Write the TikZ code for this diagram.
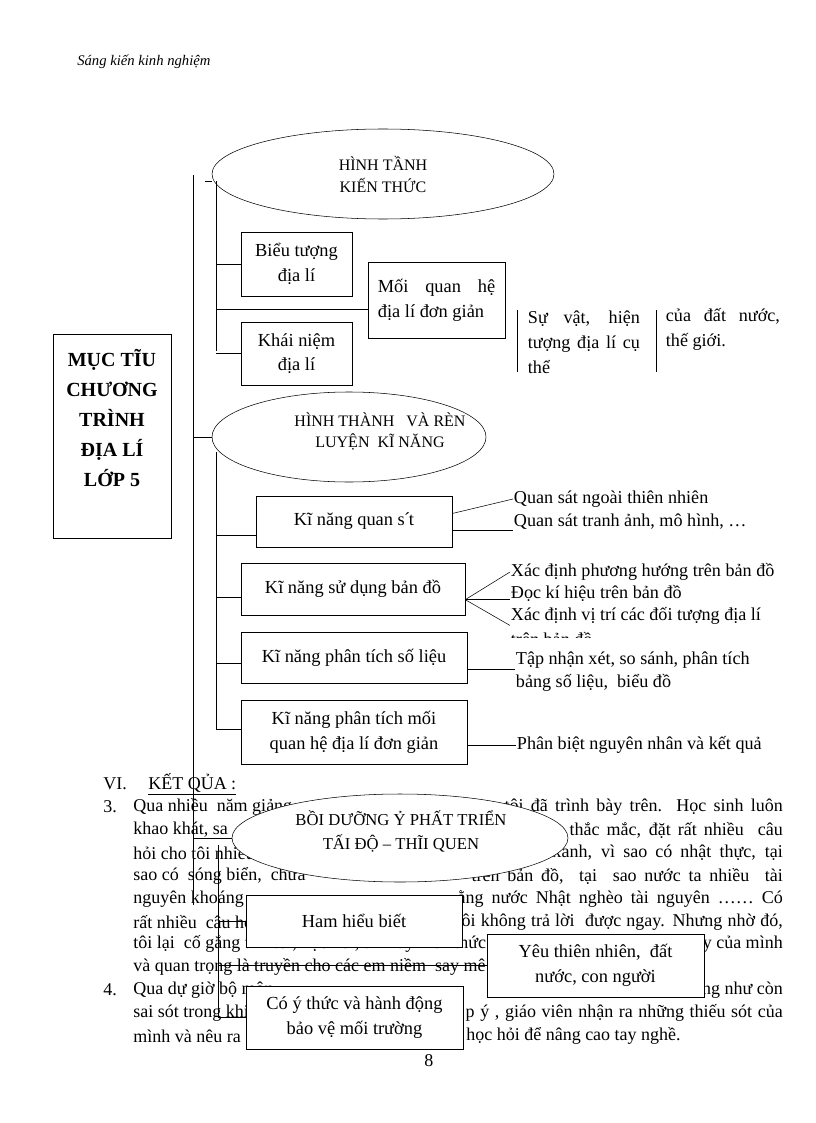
\documentclass[tikz,border=0pt]{standalone}
\usepackage{fontspec}
\setmainfont{Liberation Serif}
\usetikzlibrary{shapes.geometric,positioning}

\tikzset{
  bodytext/.style={anchor=west, inner sep=0pt, font=\fontsize{13.5}{16}\selectfont},
  bodyright/.style={bodytext, anchor=east},
  sidetext/.style={anchor=west, inner sep=0.5pt, font=\fontsize{13.6}{16}\selectfont},
  goalbox/.style={draw, fill=white, minimum width=88.5pt, minimum height=153pt},
  ideabox/.style={draw, fill=white, align=center, inner sep=2pt,
    font=\fontsize{13.8}{18.5}\selectfont},
  bubble/.style={draw, ellipse, fill=white, align=center, inner sep=0pt,
    font=\fontsize{12}{16.5}\selectfont},
}

\begin{document}
\begin{tikzpicture}[x=0.75pt,y=-0.75pt]
  \useasboundingbox (0,0) rectangle (816,1123);
  \node[anchor=west, inner sep=0pt, font=\fontsize{11}{13}\selectfont\itshape] (header) at (77,62) {Sáng kiến kinh nghiệm};

  % text of the page, under the diagram
  \node[bodytext] (vi) at (103,784) {VI.};
  \node[bodytext] (ketqua) at (148,784) {\underline{KẾT QỦA :}};
  \node[bodytext] (num3) at (103,807) {3.};
  \node[bodytext] (lineAa) at (133,807) {Qua nhiều\ \ năm giảng};
  \node[bodyright] (lineAb) at (783,807) {\makebox[208.5pt][s]{tôi đã trình bày trên. Học sinh luôn}};
  \node[bodytext] (lineBa) at (133,830) {khao khát, sa};
  \node[bodyright] (lineBb) at (783,830) {\makebox[159.75pt][s]{thắc mắc, đặt rất nhiều\ \ câu}};
  \node[bodytext] (lineCa) at (133,853) {hỏi cho tôi nhiều};
  \node[bodyright] (lineCb) at (783,853) {\makebox[172.5pt][s]{xanh, vì sao có nhật thực, tại}};
  \node[bodytext] (lineDa) at (133,876) {sao có\ \ sóng biển,\ \ chưa};
  \node[bodyright] (lineDb) at (783,876) {\makebox[233.25pt][s]{trên bản đồ,\ \ tại\ \ sao nước ta nhiều\ \ tài}};
  \node[bodytext] (lineEa) at (133,899) {nguyên khoáng};
  \node[bodyright] (lineEb) at (783,899) {\makebox[243.75pt][s]{ằng nước Nhật nghèo tài nguyên …… Có}};
  \node[bodytext] (lineFa) at (133,922) {rất nhiều\ \ câu hỏi};
  \node[bodyright] (lineFb) at (783,922) {\makebox[240.75pt][s]{ôi không trả lời\ \ được ngay. Nhưng nhờ đó,}};
  \node[bodytext] (lineGa) at (133,944) {tôi lại\ \ cố gắng tìm tòi, học hỏi, tìm lấy kiến thức};
  \node[bodyright] (lineGb) at (783,944) {y của mình};
  \node[bodytext] (lineHa) at (133,967) {và quan trọng là truyền cho các em niềm\ \ say mê};
  \node[bodytext] (num4) at (103,990) {4.};
  \node[bodytext] (lineIa) at (133,990) {Qua dự giờ bộ môn};
  \node[bodyright] (lineIb) at (783,990) {cũng như còn};
  \node[bodytext] (lineJa) at (133,1013) {sai sót trong khi};
  \node[bodyright] (lineJb) at (783,1013) {\makebox[237.75pt][s]{p ý , giáo viên nhận ra những thiếu sót của}};
  \node[bodytext] (lineKa) at (133,1036) {mình và nêu ra};
  \node[bodytext] (lineKb) at (466,1036) {học hỏi để nâng cao tay nghề.};
  \node[bodytext] (pageno) at (424,1061) {8};

  % main box and trunk
  \node[goalbox] (goal) at (112,436) {};
  \node[align=center, inner sep=0pt, font=\fontsize{15}{22.5}\selectfont\bfseries] (goalTxt) at (112,418) {MỤC TĨU\\CHƯƠNG\\TRÌNH\\ĐỊA LÍ\\LỚP 5};
  \coordinate (mainTop) at (193,175);
  \coordinate (mainBot) at (193,905);
  \draw (mainTop) -- (mainBot);

  % knowledge
  \node[bubble, minimum width=256.5pt, minimum height=67.5pt] (ellKnow) at (383,174) {HÌNH TẦNH\\KIẾN THỨC};
  \node[ideabox, minimum width=83.25pt, minimum height=48pt] (repBox) at (296.5,264) {Biểu tượng\\địa lí};
  \node[ideabox, align=left, minimum width=102.75pt, minimum height=57pt] (relBox) at (436.5,300) {\makebox[88pt][s]{Mối quan hệ}\\địa lí đơn giản};
  \node[ideabox, minimum width=83.25pt, minimum height=47.25pt] (conBox) at (296.5,353.5) {Khái niệm\\địa lí};
  \coordinate (kTick) at (205,181);
  \coordinate (kTop) at (216,181);
  \coordinate (kBot) at (216,351);
  \coordinate (relIn) at ([yshift=-6.75pt]relBox.west);
  \draw (kTick) -- (kTick -| ellKnow.west);
  \draw (kTop) -- (kBot);
  \draw (repBox.west -| kTop) -- (repBox.west);
  \draw (relIn -| kTop) -- (relIn);
  \draw (conBox.west -| kTop) -- (conBox.west);
  \node[sidetext, align=left, font=\fontsize{13.6}{18.75}\selectfont] (thingTxt) at (527,342) {\makebox[84pt][s]{Sự vật, hiện}\\\makebox[84pt][s]{tượng địa lí cụ}\\thể};
  \node[sidetext, align=left, font=\fontsize{13.6}{18.75}\selectfont] (worldTxt) at (665,329.5) {\makebox[85.5pt][s]{của đất nước,}\\thế giới.};
  \draw (517,310) -- (517,372);
  \draw (656,310) -- (656,372);

  % skills
  \node[bubble, minimum width=205.5pt, minimum height=67.5pt] (ellSkill) at (349,437) {};
  \node[align=center, inner sep=0pt, font=\fontsize{12}{15.75}\selectfont] (ellSkillTxt) at (380,431) {HÌNH THÀNH\ \ \ VÀ RÈN\\LUYỆN\ \ KĨ NĂNG};
  \node[ideabox, minimum width=147pt, minimum height=38.25pt] (obsBox) at (354,521.5) {Kĩ năng quan s\kern-0.5pt´\kern-1pt t};
  \node[ideabox, minimum width=168pt, minimum height=39pt] (mapBox) at (353,589) {Kĩ năng sử dụng bản đồ};
  \node[ideabox, minimum width=169.5pt, minimum height=38.25pt] (numBox) at (354,657.5) {Kĩ năng phân tích số liệu};
  \node[ideabox, minimum width=169.5pt, minimum height=48pt] (linkBox) at (354,732) {Kĩ năng phân tích mối\\quan hệ địa lí đơn giản};
  \coordinate (sTop) at (216,452);
  \coordinate (sBot) at (216,729);
  \draw (ellSkill.west -| mainTop) -- (ellSkill.west);
  \draw (sTop) -- (sBot);
  \draw ([yshift=-10pt]obsBox.west -| sTop) -- ([yshift=-10pt]obsBox.west);
  \draw ([yshift=-6pt]mapBox.west -| sTop) -- ([yshift=-6pt]mapBox.west);
  \draw ([yshift=-4pt]numBox.west -| sTop) -- ([yshift=-4pt]numBox.west);
  \draw ([yshift=2pt]linkBox.west -| sTop) -- ([yshift=2pt]linkBox.west);

  \node[sidetext] (obsA) at (513,499) {Quan sát ngoài thiên nhiên};
  \node[sidetext] (obsB) at (513,522) {Quan sát tranh ảnh, mô hình, …};
  \draw ([yshift=6pt]obsBox.east) -- (obsA.west);
  \draw (obsBox.east |- obsB.south west) -- (obsB.south west);

  \node[sidetext] (mapA) at (510,572) {Xác định phương hướng trên bản đồ};
  \node[sidetext] (mapB) at (510,593) {Đọc kí hiệu trên bản đồ};
  \node[sidetext] (mapC) at (510,616) {Xác định vị trí các đối tượng địa lí};
  \begin{scope}
    \clip (500,626) rectangle (800,637);
    \node[sidetext] (mapD) at (510,639) {trên bản đồ};
  \end{scope}
  \coordinate (mapOut) at ([yshift=-8pt]mapBox.east);
  \draw (mapOut) -- (mapA.west);
  \draw (mapOut) -- (mapOut -| mapB.west);
  \draw (mapOut) -- (mapC.south west);

  \node[sidetext] (numA) at (515,660) {Tập nhận xét, so sánh, phân tích};
  \node[sidetext] (numB) at (515,683) {bảng số liệu,\ \ biểu đồ};
  \draw (numBox.east |- numA.south west) -- (numA.south west);
  \node[sidetext] (linkA) at (516,745) {Phân biệt nguyên nhân và kết quả};
  \draw (linkBox.east |- linkA.west) -- (linkA.west);

  % attitudes
  \node[bubble, minimum width=252pt, minimum height=66pt] (ellCare) at (400,838) {};
  \node[align=center, inner sep=0pt, font=\fontsize{12.5}{18}\selectfont] (ellCareTxt) at (401,831) {BỒI DƯỠNG Ỷ PHẤT TRIỂN\\TẤI ĐỘ – THĨI QUEN};
  \node[ideabox, minimum width=162pt, minimum height=39pt] (hamBox) at (354,921) {Ham hiểu biết};
  \node[ideabox, minimum width=162.75pt, minimum height=47.25pt] (loveBox) at (595.5,965.5) {Yêu thiên nhiên,\ \ đất\\nước, con người};
  \node[ideabox, minimum width=162.75pt, minimum height=47.25pt] (actBox) at (354.5,1017.5) {Có ý thức và hành động\\bảo vệ mối trường};
  \coordinate (cTop) at (218,845);
  \coordinate (cBot) at (218,1017.5);
  \draw (ellCare.west -| mainTop) -- (ellCare.west);
  \draw (cTop) -- (cBot);
  \draw (hamBox.west -| cTop) -- (hamBox.west);
  \draw (loveBox.west -| cTop) -- (loveBox.west);
  \draw (actBox.west -| cTop) -- (actBox.west);
\end{tikzpicture}
\end{document}
